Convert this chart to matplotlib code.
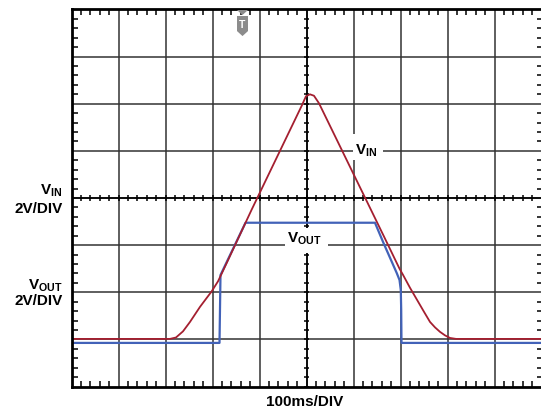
import matplotlib
matplotlib.use("Agg")
import matplotlib.pyplot as plt
import matplotlib.patches as mpatches
import numpy as np

# scope settings
T_DIV = 100.0      # ms per division
V_DIV = 2.0        # V per division
N_X, N_Y = 10, 8

# input ramp (ms, V)
vin_t = [0, 209.6, 222.3, 237.2, 252.1, 273.4, 286.2, 298.3, 311.9, 329.0, 383.4,
         490.4, 498.9, 507.4, 515.9, 526.6, 665.0, 697.9, 705.3, 720.2, 735.1,
         750.0, 762.8, 773.4, 784.0, 794.7, 805.3, 818.1, 1010]
vin_v = [0, 0, 0.06, 0.32, 0.72, 1.36, 1.70, 2.02, 2.45, 3.17, 5.49,
         9.92, 10.30, 10.38, 10.32, 10.00, 4.34, 2.98, 2.72, 2.17, 1.66,
         1.15, 0.72, 0.49, 0.30, 0.15, 0.04, 0, 0]

# regulator output (ms, V)
vout_t = [0, 314.9, 317.0, 370.2, 645.7, 663.4, 691.9, 697.9, 700.6, 701.5, 702.1, 1010]
vout_v = [0, 0, 2.88, 5.10, 5.10, 4.26, 2.97, 2.67, 2.25, 1.40, 0, 0]

# ground reference of each channel, in divisions from bottom
VIN_ZERO = 1.01
VOUT_ZERO = 0.925

W, H = 541, 411
plt.rcParams['font.family'] = ['Liberation Sans', 'DejaVu Sans']
plt.rcParams['font.weight'] = 'bold'
plt.rcParams['mathtext.fontset'] = 'custom'
plt.rcParams['mathtext.rm'] = 'Liberation Sans:bold'
plt.rcParams['mathtext.bf'] = 'Liberation Sans:bold'

fig = plt.figure(figsize=(W / 100, H / 100), dpi=100)
x0, x1, y0, y1 = 71.5, 541.5, 9.5, 386.5
ax = fig.add_axes([x0 / W, 1 - y1 / H, (x1 + 1.5 - x0) / W, (y1 - y0) / H])
ax.set_xlim(0, (x1 + 1.5 - x0) / 47.0 * T_DIV)
ax.set_ylim(0, N_Y)

def px(x, y):
    # pixel (top-left origin) -> data coords
    return (x - x0) / 47.0 * T_DIV, (y1 - y) / 47.0

# grid
for i in range(1, N_X):
    ax.axvline(i * T_DIV, color='#333333', lw=1.1, zorder=1)
for j in range(1, N_Y):
    ax.axhline(j, color='#333333', lw=1.1, zorder=1)

# ticks on frame
ax.set_xticks(np.arange(0, N_X + 1) * T_DIV)
ax.set_yticks(np.arange(0, N_Y + 1))
ax.set_xticks(np.arange(0, N_X * 5 + 1) * T_DIV / 5, minor=True)
ax.set_yticks(np.arange(0, N_Y * 5 + 1) / 5, minor=True)
ax.tick_params(which='both', direction='in', top=True, right=True,
               labelbottom=False, labelleft=False)
ax.tick_params(which='minor', length=4.5, width=1.1, color='black')
ax.tick_params(which='major', length=0)
for s in ax.spines.values():
    s.set_linewidth(2.0)
    s.set_zorder(5)
ax.spines['right'].set_linewidth(1.0)

# ticks on centre cross
cx, cy = N_X * T_DIV / 2, N_Y / 2
dx = 2.6 / 47 * T_DIV
dy = 2.6 / 47
mx = np.arange(0, N_X * 5 + 1) * T_DIV / 5
my = np.arange(0, N_Y * 5 + 1) / 5
ax.vlines(mx, cy - dy, cy + dy, color='black', lw=1.1, zorder=2)
ax.hlines(my, cx - dx, cx + dx, color='black', lw=1.1, zorder=2)
ax.axvline(cx, color='black', lw=1.2, zorder=2)
ax.axhline(cy, color='black', lw=1.2, zorder=2)

# traces
ax.plot(vout_t, np.array(vout_v) / V_DIV + VOUT_ZERO, color='#4262b8', lw=1.6, zorder=3)
ax.plot(vin_t, np.array(vin_v) / V_DIV + VIN_ZERO, color='#a41f30', lw=1.3, zorder=4)

# inline labels with white boxes
for (bx0, by0, bx1, by1) in [(352.7, 135, 383, 161), (285, 228, 328.3, 253)]:
    lx, ly = px(bx0, by1)
    ux, uy = px(bx1, by0)
    ax.add_patch(mpatches.Rectangle((lx, ly), ux - lx, uy - ly, facecolor='white',
                                    edgecolor='none', zorder=4.5))
tx, ty = px(355, 155)
ax.text(tx, ty, r'$\mathrm{V_{IN}}$', fontsize=11, ha='left', va='baseline', zorder=6)
tx, ty = px(286.7, 243.3)
ax.text(tx, ty, r'$\mathrm{V_{OUT}}$', fontsize=11, ha='left', va='baseline', zorder=6)

# trigger marker
tri = [px(237, 11), px(248, 11), px(242.5, 16)]
body = [px(237, 17), px(248, 17), px(248, 32), px(242.5, 37), px(237, 32)]
ax.add_patch(mpatches.Polygon(tri, closed=True, facecolor='#8c8c8c', edgecolor='none',
                              zorder=6, clip_on=False))
ax.add_patch(mpatches.Polygon(body, closed=True, facecolor='#8c8c8c', edgecolor='none',
                              zorder=6, clip_on=False))
tx, ty = px(242.5, 25.5)
ax.text(tx, ty, 'T', color='white', fontsize=7.5, ha='center', va='center', zorder=7)

# outside labels
def ftext(x, y, s, **kw):
    fig.text(x / W, 1 - y / H, s, fontsize=11, va='baseline', **kw)

ftext(62.5, 195, r'$\mathrm{V_{IN}}$', ha='right')
ftext(62.5, 213, '2V/DIV', ha='right')
ftext(62.5, 290, r'$\mathrm{V_{OUT}}$', ha='right')
ftext(62.5, 305, '2V/DIV', ha='right')
ftext(305, 406, '100ms/DIV', ha='center')

fig.savefig('out.png', dpi=100)
